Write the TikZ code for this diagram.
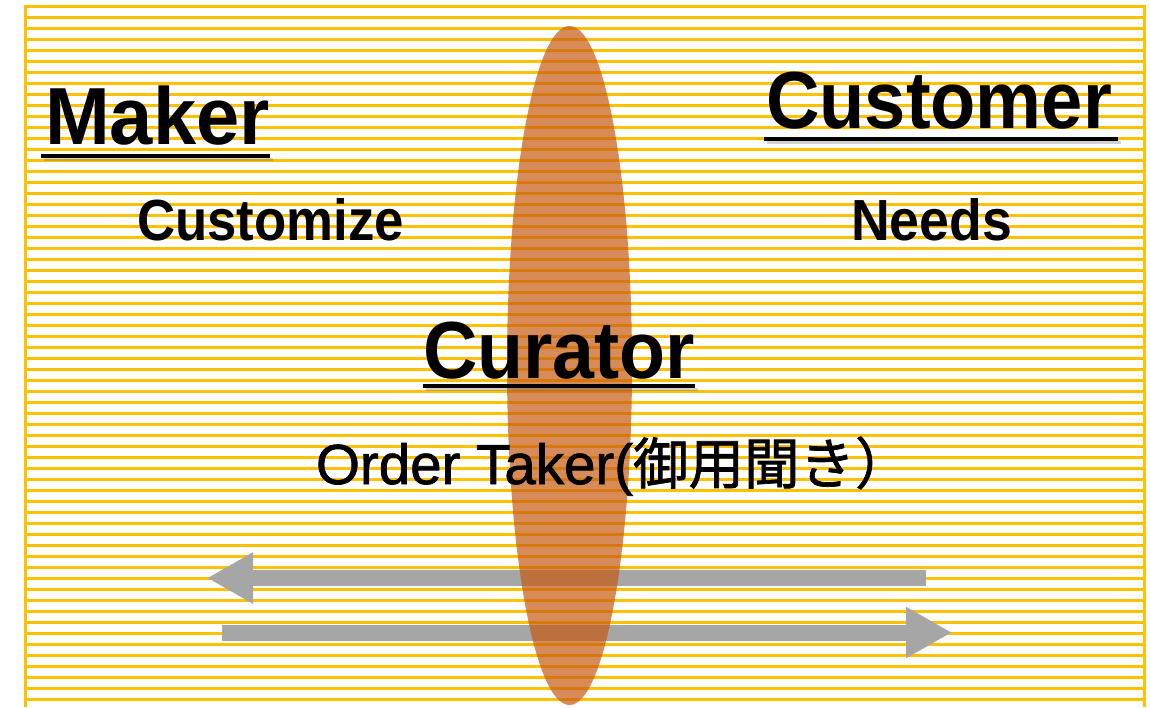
\documentclass[tikz,border=0pt]{standalone}
\usepackage{fontspec}
\usepackage{graphicx}
\setmainfont{Liberation Sans}
\newfontfamily\medfont[FakeBold=1.3]{Liberation Sans}
\newfontfamily\jpfont[FakeBold=1.3]{Noto Sans CJK JP}
\usetikzlibrary{arrows.meta}
\definecolor{gold}{HTML}{FFC000}
\definecolor{curatorfill}{HTML}{C55A11}
\definecolor{arrowgray}{HTML}{A6A6A6}
\tikzset{
  bgline/.style={draw=gold, line width=3pt},
  txt/.style={inner sep=0pt, outer sep=0pt, anchor=base west, text=black},
  titlefont/.style={font=\fontsize{81}{81}\selectfont\bfseries},
  subfont/.style={font=\fontsize{58}{58}\selectfont\bfseries},
  ulinestyle/.style={draw=black, line width=3.5pt},
  ushadow/.style={draw=black!60, line width=3.5pt, opacity=0.3},
  bigarrow/.style={draw=arrowgray, line width=16pt, -{Triangle[length=46pt,width=48pt]}},
}
\begin{document}
\begin{tikzpicture}[x=1pt, y=-1pt]
\useasboundingbox (0,0) rectangle (1150,707);
% background stripes
\foreach \k in {0,...,63} {
  \draw[bgline] (25,{6+11*\k}) -- (1144.5,{6+11*\k});
}
\draw[bgline] (25,4.5) -- (25,707);
\draw[bgline] (1144.5,4.5) -- (1144.5,707);
% arrows
\coordinate (a1s) at (926,578);
\coordinate (a1e) at (207,578);
\coordinate (a2s) at (222,632.5);
\coordinate (a2e) at (952,632.5);
\draw[bigarrow] (a1s) -- (a1e);
\draw[bigarrow] (a2s) -- (a2e);
% curator ellipse
\fill[curatorfill, opacity=0.7] (569.5,365.5) ellipse [x radius=62.5, y radius=339.5];
% titles
\node[txt, titlefont] (maker) at (45,144) {\scalebox{0.96}[1]{Maker}};
\draw[ushadow] (44,159.5) -- (273,159.5);
\draw[ulinestyle] (41,156) -- (270,156);

\node[txt, titlefont] (customer) at (766,128) {\scalebox{0.915}[1]{Customer}};
\draw[ushadow] (767,142.5) -- (1121,142.5);
\draw[ulinestyle] (764,139) -- (1118,139);

\node[txt, titlefont] (curator) at (423,378) {\scalebox{0.93}[1]{Curator}};
\draw[ushadow] (426,389.5) -- (698,389.5);
\draw[ulinestyle] (423,386) -- (695,386);

% sub texts
\node[txt, subfont] (customize) at (137,240) {\scalebox{0.91}[1]{Customize}};
\node[txt, subfont] (needs) at (851,240) {\scalebox{0.925}[1]{Needs}};
\node[txt, font=\medfont\fontsize{56.5}{56.5}\selectfont] (order) at (316,484) {Order Taker(\jpfont\fontsize{55.5}{55.5}\selectfont 御用聞き）};
\end{tikzpicture}
\end{document}
